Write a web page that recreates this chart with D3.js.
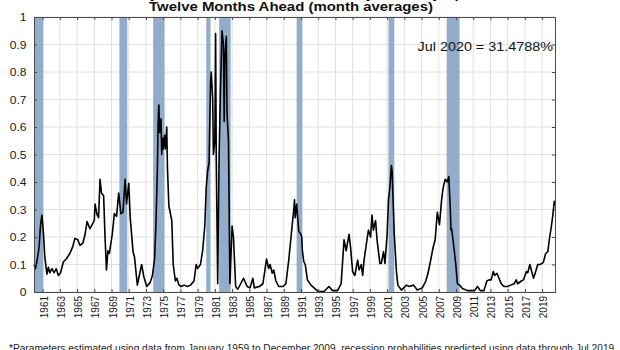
<!DOCTYPE html>
<html><head><meta charset="utf-8">
<script src="https://cdn.jsdelivr.net/npm/d3@7"></script>
<style>html,body{margin:0;padding:0;background:#fff;}svg{display:block;}</style>
</head><body>
<svg id="c" width="620" height="350"></svg>
<script>
const titleLines = ["Probability of US Recession Predicted by Treasury Spread*", "Twelve Months Ahead (month averages)"];
const annotation = "Jul 2020 = 31.4788%";
const footnote = "*Parameters estimated using data from January 1959 to December 2009, recession probabilities predicted using data through Jul 2019.";

const yTicks = [0, 0.1, 0.2, 0.3, 0.4, 0.5, 0.6, 0.7, 0.8, 0.9, 1];
const yTickLabels = ["0", "0.1", "0.2", "0.3", "0.4", "0.5", "0.6", "0.7", "0.8", "0.9", "1"];
const xTickYears = ["1961","1963","1965","1967","1969","1971","1973","1975","1977","1979","1981","1983","1985","1987","1989","1991","1993","1995","1997","1999","2001","2003","2005","2007","2009","2011","2013","2015","2017","2019"];

const recessionStart = ["1960-01","1969-12","1973-11","1980-01","1981-07","1990-07","2001-03","2007-12"];
const recessionEnd   = ["1961-02","1970-11","1975-03","1980-07","1982-11","1991-03","2001-11","2009-06"];

const months = ["1960-01","1960-03","1960-05","1960-08","1960-10","1960-12","1961-02","1961-04","1961-07","1961-09","1961-11",
"1962-02","1962-05","1962-08","1962-11","1963-02","1963-06","1963-10","1964-03","1964-07","1964-10","1965-02","1965-05","1965-09","1965-12",
"1966-03","1966-07","1966-10","1967-01","1967-02","1967-05","1967-07","1967-09","1967-11","1968-02","1968-04","1968-06","1968-08","1968-10",
"1969-02","1969-05","1969-08","1969-11","1970-02","1970-05","1970-08","1970-10","1971-01","1971-03","1971-07","1971-09",
"1972-01","1972-03","1972-07","1972-10","1973-02","1973-07","1973-10","1974-01","1974-03","1974-05","1974-06","1974-07","1974-08","1974-10","1974-11","1974-12",
"1975-01","1975-03","1975-04","1975-06","1975-07","1975-09","1975-10","1976-01","1976-03","1976-06","1976-08","1976-11",
"1977-02","1977-06","1977-11","1978-03","1978-08","1978-11","1979-01","1979-05","1979-08","1979-11",
"1980-01","1980-03","1980-05","1980-07","1980-08","1980-10","1980-11","1981-01","1981-02","1981-03","1981-05","1981-07","1981-09","1981-11",
"1982-01","1982-02","1982-03","1982-05","1982-06","1982-08","1982-10","1983-01","1983-03","1983-06","1983-09",
"1984-01","1984-05","1984-10","1985-02","1985-06","1985-08","1986-03","1986-08","1987-01","1987-04","1987-06","1987-09","1987-11",
"1988-02","1988-06","1988-12","1989-04","1989-08","1990-01","1990-03","1990-04","1990-05","1990-07","1990-10","1991-01","1991-02","1991-03","1991-05","1991-07","1991-10",
"1992-03","1992-08","1993-01","1993-09","1994-04","1994-09","1995-04","1995-09","1996-01","1996-04","1996-08","1996-10",
"1997-01","1997-04","1997-08","1997-10","1998-01","1998-03","1998-05","1998-09","1998-11","1999-02","1999-04","1999-06","1999-09","1999-11",
"2000-03","2000-05","2000-08","2000-10","2001-01","2001-03","2001-05","2001-07","2001-08","2001-11","2002-02","2002-04","2002-09",
"2003-04","2003-08","2004-02","2004-07","2005-02","2005-07","2005-10","2006-02","2006-05","2006-08","2006-11",
"2007-02","2007-05","2007-07","2007-10","2008-01","2008-03","2008-05","2008-06","2008-07","2008-10","2009-01","2009-03","2009-06","2009-10",
"2010-05","2011-03","2011-07","2011-11","2012-04","2012-08","2012-11","2013-02","2013-05","2013-07","2013-10",
"2014-01","2014-04","2014-08","2015-01","2015-05","2015-10","2016-01","2016-03","2016-08","2016-11",
"2017-03","2017-05","2017-08","2017-10","2018-01","2018-04","2018-07","2018-10","2019-01","2019-03","2019-06","2019-09","2019-11",
"2020-02","2020-04","2020-06","2020-07"];

const probs = [0.10,0.085,0.11,0.16,0.24,0.28,0.22,0.13,0.065,0.09,0.07,
0.085,0.07,0.085,0.06,0.07,0.11,0.12,0.14,0.165,0.195,0.19,0.17,0.177,0.207,
0.256,0.23,0.245,0.26,0.32,0.28,0.27,0.41,0.36,0.35,0.20,0.08,0.15,0.14,
0.21,0.285,0.275,0.36,0.285,0.29,0.41,0.32,0.395,0.275,0.147,0.128,
0.025,0.05,0.10,0.056,0.02,0.035,0.06,0.12,0.25,0.45,0.62,0.68,0.58,0.63,0.50,0.56,
0.52,0.57,0.52,0.60,0.45,0.31,0.30,0.26,0.10,0.04,0.05,0.025,
0.02,0.025,0.02,0.025,0.04,0.10,0.086,0.10,0.15,0.24,
0.38,0.44,0.47,0.76,0.80,0.70,0.50,0.55,0.94,0.49,0.03,0.50,0.75,0.95,
0.90,0.62,0.85,0.93,0.65,0.55,0.03,0.24,0.20,0.02,0.01,
0.03,0.05,0.02,0.015,0.05,0.015,0.02,0.03,0.12,0.086,0.10,0.068,0.08,
0.04,0.02,0.02,0.03,0.116,0.25,0.30,0.335,0.27,0.32,0.22,0.21,0.20,0.15,0.11,0.10,0.044,
0.025,0.013,0.002,0.002,0.02,0.005,0.005,0.03,0.19,0.15,0.21,0.165,
0.074,0.06,0.116,0.08,0.10,0.06,0.116,0.19,0.225,0.20,0.28,0.225,0.26,0.19,
0.104,0.104,0.147,0.104,0.207,0.335,0.383,0.46,0.44,0.21,0.074,0.025,0.007,
0.025,0.02,0.025,0.007,0.015,0.04,0.068,0.12,0.16,0.19,0.29,
0.245,0.335,0.377,0.41,0.40,0.42,0.31,0.225,0.23,0.165,0.092,0.03,0.025,0.013,
0.005,0.005,0.02,0.005,0.005,0.04,0.044,0.044,0.074,0.06,0.068,
0.05,0.03,0.02,0.02,0.025,0.03,0.044,0.03,0.04,0.044,
0.074,0.07,0.10,0.08,0.05,0.074,0.10,0.10,0.104,0.11,0.14,0.147,0.19,
0.24,0.28,0.33,0.315];

const parse = d3.timeParse("%Y-%m");
const data = months.map((m, i) => ({date: parse(m), value: probs[i]}));

const L = 34, R = 555, T = 17, B = 292;
const STRETCH = 1.15;
const FONT = "'Liberation Sans', Arial, sans-serif";

const svg = d3.select("#c");
const xScale = d3.scaleTime().domain([parse("1960-01"), parse("2020-07")]).range([L, R]);
const yScale = d3.scaleLinear().domain([0, 1]).range([B, T]);

// grid
const grid = svg.append("g");
grid.selectAll("line.v").data(xTickYears).enter().append("line")
  .attr("x1", d => xScale(parse(d + "-01"))).attr("x2", d => xScale(parse(d + "-01")))
  .attr("y1", T).attr("y2", B).attr("stroke", "#e0e0e0").attr("stroke-width", 1);
grid.selectAll("line.h").data(yTicks).enter().append("line")
  .attr("x1", L).attr("x2", R).attr("y1", d => yScale(d)).attr("y2", d => yScale(d))
  .attr("stroke", "#e0e0e0").attr("stroke-width", 1);

// recession bands
svg.append("g").selectAll("rect").data(recessionStart).enter().append("rect")
  .attr("x", (d) => xScale(parse(d)))
  .attr("width", (d, i) => xScale(parse(recessionEnd[i])) - xScale(parse(d)))
  .attr("y", T).attr("height", B - T)
  .attr("fill", "#93acca");

// line
svg.append("path").datum(data)
  .attr("d", d3.line().x(d => xScale(d.date)).y(d => yScale(d.value)))
  .attr("fill", "none").attr("stroke", "#000").attr("stroke-width", 1.6)
  .attr("stroke-linejoin", "round");

// axes (inward ticks, box)
const axColor = "#4a4a4a";
const xt = xTickYears.map(d => parse(d + "-01"));
const axBottom = svg.append("g").attr("transform", `translate(0,${B})`)
  .call(d3.axisBottom(xScale).tickValues(xt).tickSize(-3).tickFormat(""));
const axTop = svg.append("g").attr("transform", `translate(0,${T})`)
  .call(d3.axisTop(xScale).tickValues(xt).tickSize(-3).tickFormat(""));
const axLeft = svg.append("g").attr("transform", `translate(${L},0)`)
  .call(d3.axisLeft(yScale).tickValues(yTicks).tickSize(-3).tickFormat(""));
const axRight = svg.append("g").attr("transform", `translate(${R},0)`)
  .call(d3.axisRight(yScale).tickValues(yTicks).tickSize(-3).tickFormat(""));
[axBottom, axTop, axLeft, axRight].forEach(g => {
  g.selectAll("path").attr("stroke", axColor);
  g.selectAll("line").attr("stroke", axColor);
});

// y labels
svg.append("g").selectAll("text").data(yTicks).enter().append("text")
  .attr("transform", d => `translate(26.5,${yScale(d) + 4}) scale(1.05,1)`)
  .attr("text-anchor", "end").attr("font-family", FONT).attr("font-size", 11.5)
  .attr("fill", "#1a1a1a").text((d, i) => yTickLabels[i]);

// x labels (rotated)
svg.append("g").selectAll("text").data(xTickYears).enter().append("text")
  .attr("transform", d => `translate(${xScale(parse(d + "-01")) + 1},296) scale(${STRETCH},1) rotate(-90)`)
  .attr("text-anchor", "end").attr("dy", "0.35em")
  .attr("font-family", FONT).attr("font-size", 10)
  .attr("fill", "#1a1a1a").text(d => d);

// titles (first line is mostly above the visible area, as in the reference)
svg.append("text").attr("transform", `translate(291,-2.5) scale(${STRETCH},1)`)
  .attr("text-anchor", "middle").attr("font-family", FONT).attr("font-weight", "bold")
  .attr("font-size", 13).attr("fill", "#111").text(titleLines[0]);
svg.append("text").attr("transform", `translate(291,11) scale(${STRETCH},1)`)
  .attr("text-anchor", "middle").attr("font-family", FONT).attr("font-weight", "bold")
  .attr("font-size", 13).attr("fill", "#111").text(titleLines[1]);

// annotation
svg.append("text").attr("transform", `translate(553,50.5) scale(${STRETCH},1)`)
  .attr("text-anchor", "end").attr("font-family", FONT)
  .attr("font-size", 12.5).attr("fill", "#111").text(annotation);

// footnote
svg.append("text").attr("x", 9).attr("y", 351.5)
  .attr("font-family", FONT).attr("font-size", 10.5).attr("fill", "#222")
  .attr("textLength", 608).attr("lengthAdjust", "spacingAndGlyphs")
  .text(footnote);
</script>
</body></html>
